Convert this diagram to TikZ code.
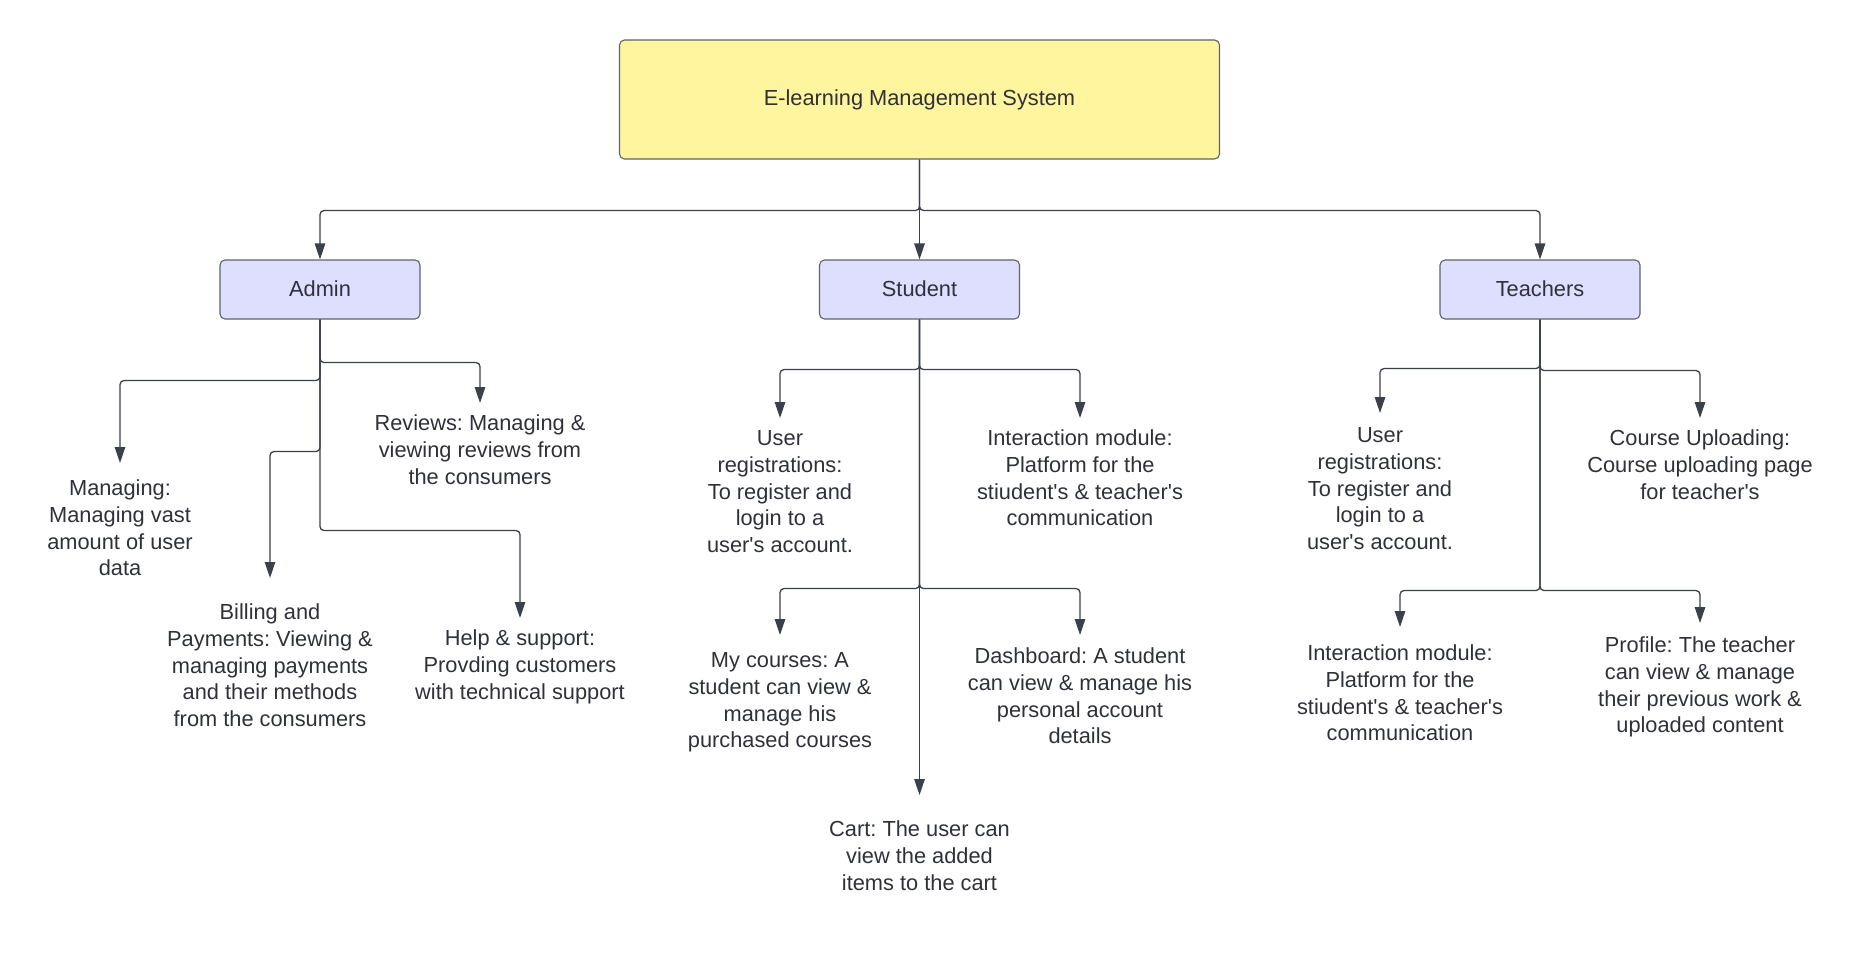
\documentclass[tikz,border=0pt]{standalone}
\usepackage{fontspec}
\setmainfont{Liberation Sans}
\usetikzlibrary{arrows.meta}
\definecolor{linec}{HTML}{3A414A}
\definecolor{txtc}{HTML}{2E3138}
\definecolor{boxline}{HTML}{5F6368}
\definecolor{yellowfill}{HTML}{FFF59E}
\definecolor{lavfill}{HTML}{DEDEFF}
\newcommand{\sq}{\textquotesingle}
\frenchspacing
\begin{document}
\begin{tikzpicture}[x=1pt,y=-1pt,
  lbl/.style={font=\frenchspacing\fontsize{21.8}{26.6}\selectfont, text=txtc},
  rootbox/.style={lbl, draw=boxline, line width=1.1pt, fill=yellowfill, rounded corners=5pt,
    minimum width=600pt, minimum height=119pt, inner sep=0pt},
  rolebox/.style={lbl, draw=boxline, line width=1.1pt, fill=lavfill, rounded corners=5pt,
    minimum width=200pt, minimum height=59pt, inner sep=0pt},
  txt/.style={lbl, align=center, anchor=north, inner xsep=0pt, inner ysep=#1},
  conn/.style={draw=linec, line width=1.3pt, rounded corners=4pt,
    -{Triangle[length=16pt,width=10.5pt]}}]
\useasboundingbox (0,0) rectangle (1860,960);

% main boxes
\node[rootbox] (root) at (919.5,99.5) {E-learning Management System};
\node[rolebox] (admin) at (320,289.5) {\raisebox{1.5pt}{Admin}};
\node[rolebox] (student) at (919.5,289.5) {\raisebox{1.5pt}{Student}};
\node[rolebox] (teach) at (1540,289.5) {\raisebox{1.5pt}{Teachers}};

% admin texts
\node[txt=14pt] (man) at (120,463) {\strut Managing:\\Managing vast\\amount of user\\data};
\node[txt=23pt] (bill) at (270,578) {\strut Billing and\\Payments: Viewing \&\\managing payments\\and their methods\\from the consumers};
\node[txt=9pt] (rev) at (480,403) {\strut Reviews: Managing \&\\viewing reviews from\\the consumers};
\node[txt=9pt] (help) at (520,618) {\strut Help \& support:\\Provding customers\\with technical support};

% student texts
\node[txt=9pt] (sreg) at (780,418) {\strut User\\registrations:\\To register and\\login to a\\user\sq s account.};
\node[txt=9pt] (sint) at (1080,418) {\strut Interaction module:\\Platform for the\\stiudent\sq s \& teacher\sq s\\communication};
\node[txt=14pt] (mycourse) at (780,635) {\strut My courses: A\\student can view \&\\manage his\\purchased courses};
\node[txt=10pt] (dash) at (1080,635) {\strut Dashboard: A student\\can view \& manage his\\personal account\\details};
\node[txt=23pt] (cart) at (919.5,795) {\strut Cart: The user can\\view the added\\items to the cart};

% teacher texts
\node[txt=11pt] (treg) at (1380,413) {\strut User\\registrations:\\To register and\\login to a\\user\sq s account.};
\node[txt=9pt] (upl) at (1700,418) {\strut Course Uploading:\\Course uploading page\\for teacher\sq s};
\node[txt=15pt] (tint) at (1400,627) {\strut Interaction module:\\Platform for the\\stiudent\sq s \& teacher\sq s\\communication};
\node[txt=11pt] (prof) at (1700,623) {\strut Profile: The teacher\\can view \& manage\\their previous work \&\\uploaded content};

% top connectors
\draw[conn] (root.south) -- ++(0,51) -| (admin.north);
\draw[conn] (root.south) -- ++(0,51) -| (teach.north);
\draw[conn] (root.south) -- (student.north);

% admin connectors
\draw[conn] (admin.south) -- ++(0,43) -| (rev.north);
\draw[conn] (admin.south) -- ++(0,61) -| (man.north);
\draw[conn] (admin.south) -- ++(0,132) -| (bill.north);
\draw[conn] (admin.south) -- ++(0,211) -| (help.north);

% student connectors
\draw[conn] (student.south) -- ++(0,50) -| (sreg.north);
\draw[conn] (student.south) -- ++(0,50) -| (sint.north);
\draw[conn] (student.south) -- ++(0,269) -| (mycourse.north);
\draw[conn] (student.south) -- ++(0,269) -| (dash.north);
\draw[conn] (student.south) -- (cart.north);

% teacher connectors
\draw[conn] (teach.south) -- ++(0,49) -| (treg.north);
\draw[conn] (teach.south) -- ++(0,51) -| (upl.north);
\draw[conn] (teach.south) -- ++(0,271) -| (tint.north);
\draw[conn] (teach.south) -- ++(0,271) -| (prof.north);
\end{tikzpicture}
\end{document}
